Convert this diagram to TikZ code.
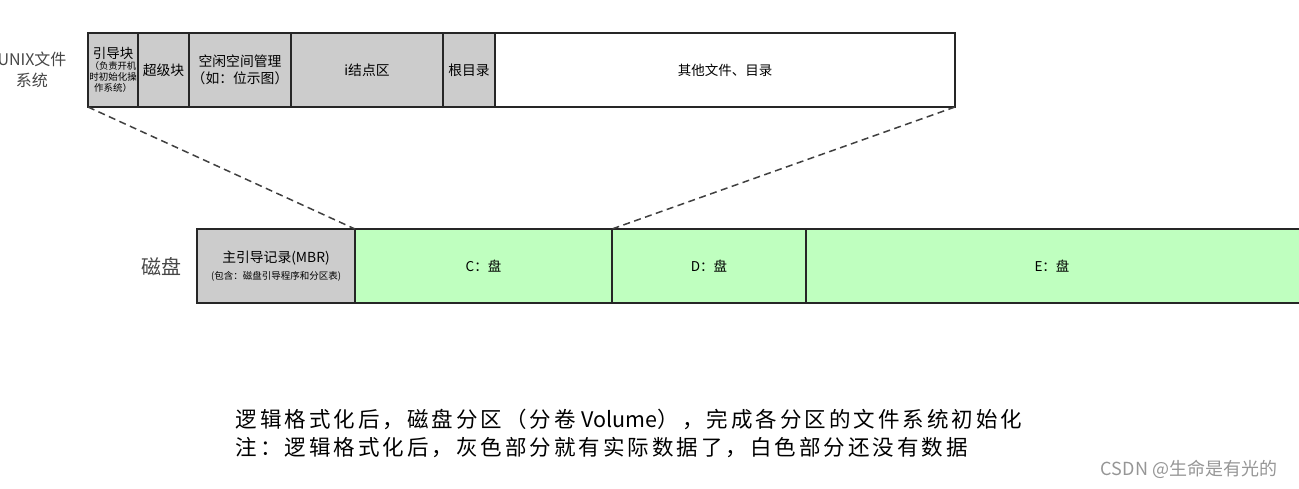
\documentclass[tikz,border=0pt]{standalone}
\usepackage{fontspec}
\setmainfont{Noto Sans CJK SC}
\newfontfamily\cjkwide[LetterSpace=14]{Noto Sans CJK SC}
\definecolor{boxgray}{RGB}{204,204,204}
\definecolor{boxgreen}{RGB}{191,255,191}
\definecolor{lblgray}{RGB}{70,70,70}
\definecolor{wmgray}{RGB}{150,150,150}
\tikzset{
  seg/.style={draw=black!85, line width=1.2pt, anchor=north west, inner sep=1pt, outer sep=0pt, align=center, font=\fontsize{13.8}{17}\selectfont},
  grayseg/.style={seg, fill=boxgray},
  greenseg/.style={seg, fill=boxgreen},
  whiteseg/.style={seg, fill=white},
  zoomline/.style={draw=black!75, line width=1.5pt, dash pattern=on 7pt off 4.5pt}
}
\begin{document}
\begin{tikzpicture}[x=1pt,y=-1pt]
\useasboundingbox (0,0) rectangle (1299,489);
% top bar
\node[grayseg, minimum width=50pt, minimum height=74pt, font=\fontsize{9.5}{11}\selectfont] (boot) at (88,33)
  {\fontsize{13.5}{15}\selectfont 引导块\\\fontsize{9.3}{11}\selectfont （负责开机\\时初始化操\\作系统）};
\node[grayseg, minimum width=51pt, minimum height=74pt] (super) at (138,33) {超级块};
\node[grayseg, minimum width=102pt, minimum height=74pt] (free) at (189,33) {空闲空间管理\\（如：位示图）};
\node[grayseg, minimum width=152pt, minimum height=74pt] (inode) at (291,33) {i结点区};
\node[grayseg, minimum width=52pt, minimum height=74pt] (root) at (443,33) {根目录};
\node[whiteseg, minimum width=460pt, minimum height=74pt, font=\fontsize{13.5}{16}\selectfont] (other) at (495,33) {其他文件、目录};
\node[text=lblgray, align=center, font=\fontsize{16}{21}\selectfont] (unix) at (32,70) {UNIX文件\\系统};
% bottom bar
\node[grayseg, minimum width=158pt, minimum height=74pt] (mbr) at (197,229)
  {主引导记录(MBR)\\\fontsize{9.5}{12}\selectfont (包含：磁盘引导程序和分区表)};
\node[greenseg, minimum width=257pt, minimum height=74pt, font=\fontsize{13.5}{16}\selectfont] (cdisk) at (355,229) {C：盘};
\node[greenseg, minimum width=194pt, minimum height=74pt, font=\fontsize{13.5}{16}\selectfont] (ddisk) at (612,229) {D：盘};
\node[greenseg, minimum width=500pt, minimum height=74pt, font=\fontsize{13.5}{16}\selectfont] (edisk) at (806,229) {};
\node[font=\fontsize{13.5}{16}\selectfont] (elabel) at (1052,266) {E：盘};
\node[text=lblgray, font=\fontsize{20}{24}\selectfont] (disk) at (161,267) {磁盘};
% zoom lines
\draw[zoomline] (boot.south west) -- (mbr.north east);
\draw[zoomline] (other.south east) -- (cdisk.north east);
% notes
\node[anchor=west, align=left, font=\fontsize{21.5}{28}\selectfont\cjkwide] (note) at (232,433)
  {逻辑格式化后，磁盘分区（分卷\hspace{6pt}{\normalfont\fontsize{21.5}{28}\selectfont Volume}），完成各分区的文件系统初始化\\注：逻辑格式化后，灰色部分就有实际数据了，白色部分还没有数据};
\node[text=wmgray, font=\fontsize{18}{21}\selectfont] (wm) at (1189,469) {CSDN @生命是有光的};
\end{tikzpicture}
\end{document}
